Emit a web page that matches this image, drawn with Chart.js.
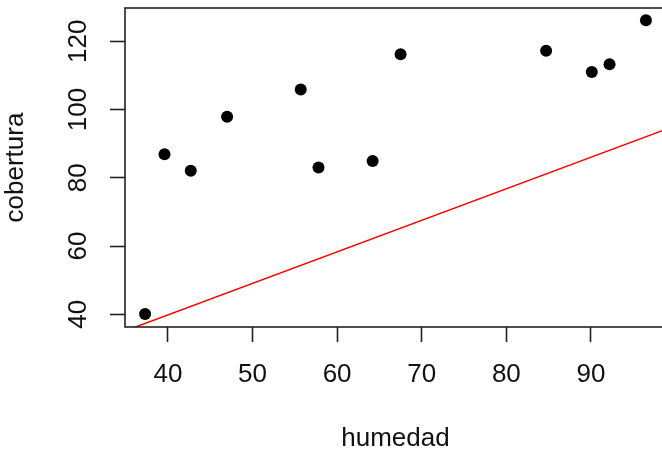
<!DOCTYPE html>
<html>
<head>
<meta charset="utf-8">
<script src="https://cdn.jsdelivr.net/npm/chart.js@4/dist/chart.umd.min.js"></script>
<style>
  html, body { margin: 0; padding: 0; background: #fff; overflow: hidden; }
  canvas { display: block; }
</style>
</head>
<body>
<canvas id="scatterChart" width="672" height="452"></canvas>
<script>
// humedad vs cobertura
const humedad   = [37.3, 39.6, 42.7, 47.0, 55.7, 57.8, 64.2, 67.5, 84.7, 90.1, 92.2, 96.5];
const cobertura = [40.1, 86.9, 82.1, 97.9, 105.9, 83.0, 84.9, 116.2, 117.2, 111.0, 113.3, 126.2];

// recta roja (extremos)
const rectaX = [35, 99];
const rectaY = [35.2, 94.35];

const xTicks = [40, 50, 60, 70, 80, 90];
const yTicks = [40, 60, 80, 100, 120];

const FONT = "'Liberation Sans', Arial, sans-serif";

// caja alrededor del area de trazado, como en R
const boxPlugin = {
    id: 'plotBox',
    afterDraw(chart) {
        const { ctx, chartArea: a } = chart;
        ctx.save();
        ctx.strokeStyle = '#222';
        ctx.lineWidth = 1.6;
        ctx.strokeRect(a.left, a.top, a.right - a.left, a.bottom - a.top);
        ctx.restore();
    }
};

const puntos = humedad.map((h, i) => ({ x: h, y: cobertura[i] }));
const recta = rectaX.map((x, i) => ({ x: x, y: rectaY[i] }));

new Chart(document.getElementById('scatterChart'), {
    type: 'scatter',
    data: {
        datasets: [
            {
                label: 'recta',
                data: recta,
                showLine: true,
                borderColor: '#FF0000',
                borderWidth: 1.5,
                pointRadius: 0,
                order: 2
            },
            {
                label: 'datos',
                data: puntos,
                backgroundColor: '#000',
                borderWidth: 0,
                pointRadius: 6,
                order: 1
            }
        ]
    },
    options: {
        responsive: false,
        animation: false,
        devicePixelRatio: 1,
        layout: { padding: { top: 8, right: 3, bottom: 0, left: 0 } },
        plugins: { legend: { display: false }, tooltip: { enabled: false } },
        scales: {
            x: {
                type: 'linear',
                position: 'bottom',
                min: 34.93,
                max: 98.87,
                afterFit: s => { s.height = 125; s.paddingLeft = 0; s.paddingRight = 0; },
                afterBuildTicks: s => { s.ticks = xTicks.map(v => ({ value: v })); },
                grid: { drawOnChartArea: false, tickLength: 15, tickWidth: 1.6, tickColor: '#222' },
                border: { display: false },
                ticks: {
                    color: '#111',
                    font: { family: FONT, size: 26, lineHeight: 1 },
                    padding: 20,
                    maxRotation: 0
                },
                title: {
                    display: true,
                    text: 'humedad',
                    color: '#111',
                    font: { family: FONT, size: 26, lineHeight: 1 },
                    padding: { top: 0, bottom: 0 }
                }
            },
            y: {
                type: 'linear',
                position: 'left',
                min: 36.28,
                max: 129.76,
                afterFit: s => { s.width = 125; s.paddingTop = 0; s.paddingBottom = 0; },
                afterBuildTicks: s => { s.ticks = yTicks.map(v => ({ value: v })); },
                grid: { drawOnChartArea: false, tickLength: 15, tickWidth: 1.6, tickColor: '#222' },
                border: { display: false },
                ticks: {
                    color: '#111',
                    font: { family: FONT, size: 26, lineHeight: 1 },
                    padding: 9.5,
                    minRotation: 90,
                    maxRotation: 90,
                    crossAlign: 'center'
                },
                title: {
                    display: true,
                    text: 'cobertura',
                    color: '#111',
                    font: { family: FONT, size: 26, lineHeight: 1 },
                    padding: { top: 3, bottom: 0 }
                }
            }
        }
    },
    plugins: [boxPlugin]
});
</script>
</body>
</html>
